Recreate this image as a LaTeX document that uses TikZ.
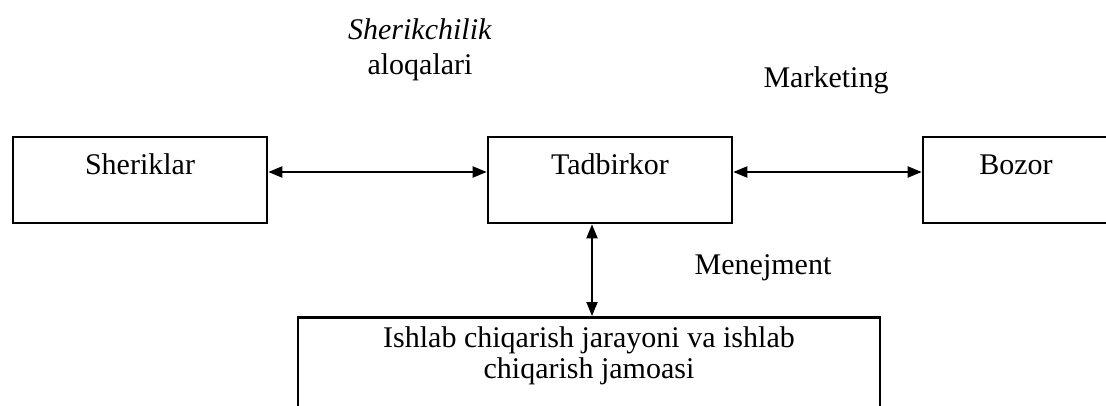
\documentclass[tikz,border=0pt]{standalone}
\usepackage{fontspec}
\setmainfont{Liberation Serif}
\usetikzlibrary{positioning,arrows.meta}
\tikzset{
  blk/.style={draw=black, line width=2.6pt, inner xsep=0pt, inner ysep=0pt,
              font=\fontsize{30}{31}\selectfont, text height=38pt, text depth=48pt},
  lbl/.style={font=\fontsize{30}{35}\selectfont, inner sep=0pt, align=center},
  fa/.style={{Triangle[length=14pt,width=11pt]}-{Triangle[length=14pt,width=11pt]}, line width=2pt}
}
\begin{document}
\begin{tikzpicture}[x=1pt, y=-1pt]
  \useasboundingbox (0,0) rectangle (1106,406);
  \clip (0,0) rectangle (1106,406);
  \node[blk, minimum width=254pt] (sher) at (140,180) {Sheriklar};
  \node[blk, minimum width=244pt] (tad) at (610,180) {Tadbirkor};
  \node[blk, minimum width=186pt] (bozor) at (1016,180) {Bozor};
  \node[blk, anchor=north, minimum width=582pt, text height=30pt, text depth=120pt] (ishlab) at (589,316)
    {\begin{tabular}[t]{@{}c@{}}Ishlab chiqarish jarayoni va ishlab\\ chiqarish jamoasi\end{tabular}};
  \node[lbl] (sheraloq) at (420,50) {\textit{Sherikchilik}\\aloqalari};
  \node[lbl] (market) at (826,80) {Marketing};
  \node[lbl] (menej) at (763,268) {Menejment};
  \draw[fa] ([yshift=8pt]sher.east) -- ([yshift=8pt]tad.west);
  \draw[fa] ([yshift=8pt]tad.east) -- ([yshift=8pt]bozor.west);
  \draw[fa] ([xshift=-18pt]tad.south) -- ([xshift=-18pt]tad.south |- ishlab.north);
\end{tikzpicture}
\end{document}
